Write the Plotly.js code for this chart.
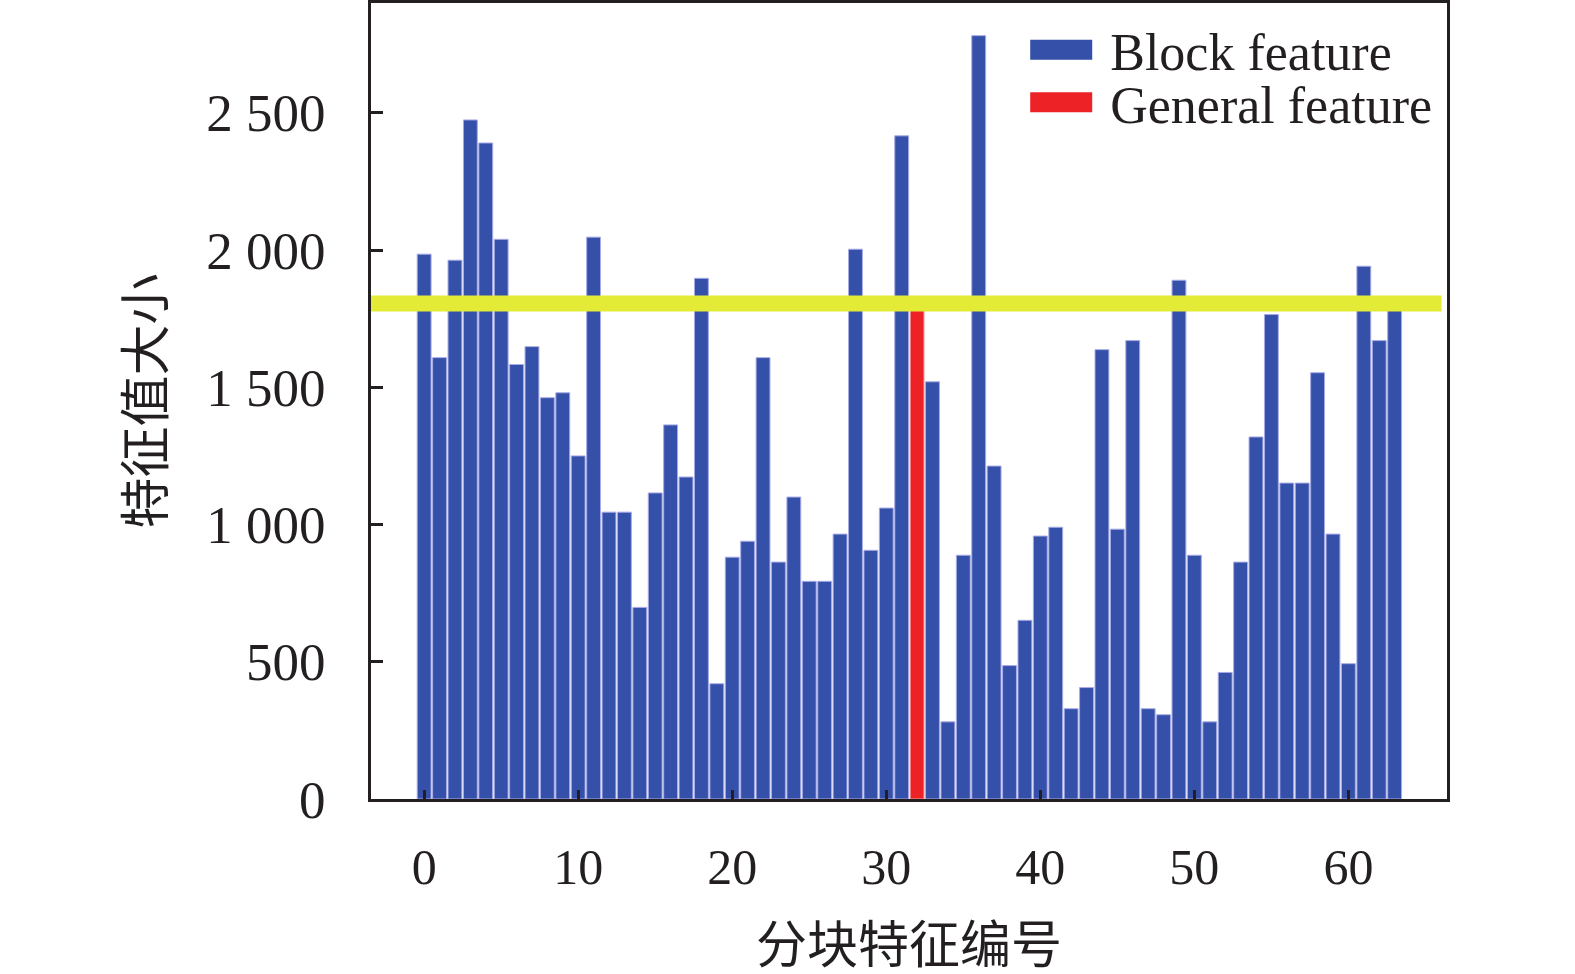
<!DOCTYPE html>
<html>
<head>
<meta charset="utf-8">
<script src="https://cdn.plot.ly/plotly-3.0.1.min.js"></script>
<style>
  html, body { margin: 0; padding: 0; background: #fff; }
  #chart { width: 1575px; height: 974px; }
</style>
</head>
<body>
<div id="chart"></div>
<script>
// values, one per block feature (index 0..63)
const featureValues = [
    1985, 1608, 1963, 2474, 2390, 2039, 1583, 1648, 1462, 1480,
    1250, 2047, 1045, 1045, 698, 1115, 1363, 1173, 1897, 420,
    881, 939, 1608, 863, 1100, 793, 793, 965, 2003, 906,
    1060, 2416, 1780, 1520, 281, 888, 2781, 1213, 486, 651,
    958, 990, 329, 406, 1637, 983, 1670, 329, 307, 1890,
    888, 281, 461, 863, 1319, 1765, 1151, 1151, 1553, 965,
    493, 1941, 1670, 1780
];
// the one highlighted bar (general feature)
const generalIndex = [32];
// threshold drawn as the yellow line
const threshold = [1805];
const seriesNames = ['Block feature', 'General feature'];
const yTicks = [0, 500, 1000, 1500, 2000, 2500];
const xTicks = [0, 10, 20, 30, 40, 50, 60];

const blueColor = '#3450a9';
const redColor = '#ec2227';
const edgeColor = '#a7aae6';

const idx = featureValues.map((v, i) => i);
const blockX = idx.filter((i) => !generalIndex.includes(i));
const blockY = blockX.map((i) => featureValues[i]);
const genY = generalIndex.map((i) => featureValues[i]);

const serif = '"Liberation Serif", "Times New Roman", "Noto Sans CJK SC", serif';

var data = [
    {
        x: blockX,
        y: blockY,
        type: 'bar',
        width: 0.9,
        marker: { color: blueColor, line: { color: edgeColor, width: 1 } },
        showlegend: false,
        hoverinfo: 'x+y'
    },
    {
        x: generalIndex,
        y: genY,
        type: 'bar',
        width: 0.9,
        marker: { color: redColor, line: { color: '#f5a0a0', width: 1 } },
        showlegend: false,
        hoverinfo: 'x+y'
    },
    // legend-only entries so the swatches are wide bars
    {
        x: [null], y: [null], type: 'scatter', mode: 'lines',
        name: '&nbsp;' + seriesNames[0], line: { color: blueColor, width: 10 },
        legend: 'legend'
    },
    {
        x: [null], y: [null], type: 'scatter', mode: 'lines',
        name: '&nbsp;' + seriesNames[1], line: { color: redColor, width: 10 },
        legend: 'legend2'
    }
];

const legendBase = {
    xanchor: 'left', yanchor: 'middle',
    bgcolor: 'rgba(255,255,255,0)',
    borderwidth: 0,
    itemwidth: 62,
    font: { family: serif, size: 52, color: '#231f20' }
};

var layout = {
    width: 1575,
    height: 974,
    margin: { l: 371, r: 128, t: 3, b: 175 },
    paper_bgcolor: '#fff',
    plot_bgcolor: '#fff',
    barmode: 'overlay',
    separators: '. ',
    font: { family: serif, size: 50, color: '#231f20' },
    xaxis: {
        range: [-3.45, 66.4],
        tickvals: xTicks,
        ticks: 'inside',
        ticklen: 9,
        tickwidth: 3,
        tickcolor: '#231f20',
        showline: true,
        linewidth: 3,
        linecolor: '#231f20',
        mirror: true,
        showgrid: false,
        zeroline: false,
        ticklabelstandoff: 22,
        tickfont: { family: serif, size: 50 },
        title: { text: '分块特征编号', standoff: 34, font: { family: serif, size: 51 } }
    },
    yaxis: {
        range: [0, 2900],
        tickvals: yTicks,
        tickformat: ',',
        ticks: 'inside',
        ticklen: 12,
        tickwidth: 3,
        tickcolor: '#231f20',
        showline: true,
        linewidth: 3,
        linecolor: '#231f20',
        mirror: true,
        showgrid: false,
        zeroline: false,
        ticklabelstandoff: 32,
        tickfont: { family: serif, size: 53 },
        title: { text: '特征值大小', standoff: 26, font: { family: serif, size: 51 } }
    },
    shapes: [
        {
            type: 'line',
            xref: 'paper', yref: 'y',
            x0: 0, x1: 0.995,
            y0: threshold[0], y1: threshold[0],
            line: { color: '#e4eb36', width: 16 },
            layer: 'above'
        }
    ],
    legend: Object.assign({ x: 0.608, y: 0.941 }, legendBase),
    legend2: Object.assign({ x: 0.608, y: 0.875 }, legendBase)
};

Plotly.newPlot('chart', data, layout, { displayModeBar: false, staticPlot: true }).then((gd) => {
    // thicken the legend swatches to look like the wide bar patches
    gd.querySelectorAll('.legendlines path').forEach((p) => {
        p.style.strokeWidth = '20px';
    });
});
</script>
</body>
</html>
